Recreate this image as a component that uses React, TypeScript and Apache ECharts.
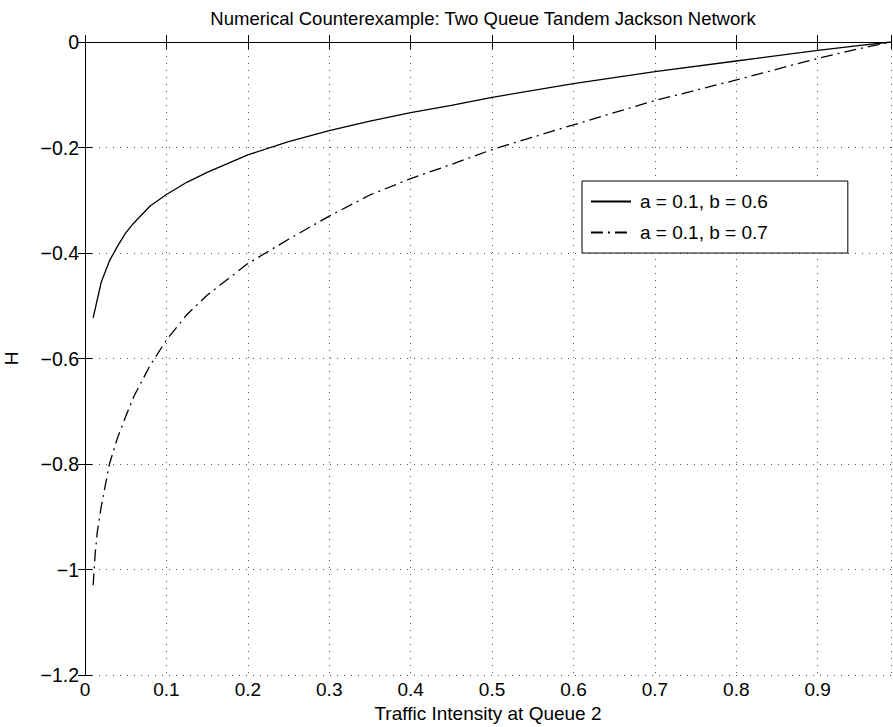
import React, { useEffect, useRef } from "react";
import * as echarts from "echarts";

const titleText = "Numerical Counterexample: Two Queue Tandem Jackson Network";
const xName = "Traffic Intensity at Queue 2";
const yName = "H";
const seriesNames = ["a = 0.1, b = 0.6", "a = 0.1, b = 0.7"];

const solidX = [0.01, 0.02, 0.03, 0.04, 0.05, 0.06, 0.08, 0.1, 0.125, 0.15, 0.2, 0.25, 0.3, 0.35, 0.4, 0.45, 0.5, 0.6, 0.7, 0.8, 0.9, 0.95, 0.99];
const solidY = [-0.523, -0.455, -0.415, -0.387, -0.362, -0.343, -0.311, -0.289, -0.266, -0.247, -0.214, -0.189, -0.168, -0.15, -0.134, -0.12, -0.105, -0.079, -0.056, -0.036, -0.016, -0.007, 0];

const dashX = [0.01, 0.0125, 0.015, 0.02, 0.03, 0.04, 0.05, 0.06, 0.08, 0.1, 0.125, 0.15, 0.2, 0.25, 0.3, 0.35, 0.4, 0.45, 0.5, 0.6, 0.7, 0.8, 0.9, 0.95, 0.99];
const dashY = [-1.03, -0.97, -0.93, -0.88, -0.8, -0.75, -0.71, -0.672, -0.613, -0.565, -0.517, -0.48, -0.42, -0.374, -0.33, -0.29, -0.259, -0.232, -0.204, -0.157, -0.111, -0.072, -0.031, -0.013, 0];

const FONT = "'Liberation Sans', Arial, Helvetica, sans-serif";

const fmtX = (v: number) => {
  const r = Math.round(v * 10);
  if (Math.abs(v * 10 - r) > 1e-6) return "";
  return r === 0 ? "0" : String(r / 10);
};
const fmtY = (v: number) => {
  const r = Math.round(v * 10);
  if (Math.abs(v * 10 - r) > 1e-6) return "";
  const s = r === 0 ? "0" : String(r / 10);
  return s.replace("-", "\u2212");
};

export default function App() {
  const ref = useRef<HTMLDivElement>(null);
  useEffect(() => {
    if (!ref.current) return;
    const chart = echarts.init(ref.current, null, { renderer: "svg" });
    const gridLine = { show: true, lineStyle: { color: "#555", type: [1, 6] as any, width: 1 } };
    const tick = { show: true, inside: true, length: 7, lineStyle: { color: "#000", width: 1 } };
    const axLine = { show: true, lineStyle: { color: "#000", width: 1 } };
    chart.setOption({
      animation: false,
      backgroundColor: "#fff",
      title: {
        text: titleText,
        left: 478,
        textAlign: "center",
        top: 4,
        textStyle: { fontFamily: FONT, fontSize: 18.5, fontWeight: "normal", color: "#000" },
      },
      legend: {
        left: 582,
        top: 181,
        orient: "vertical",
        data: seriesNames,
        itemWidth: 40,
        itemHeight: 14,
        itemGap: 12,
        padding: [11, 80, 11, 8],
        borderColor: "#000",
        borderWidth: 1,
        borderRadius: 0,
        backgroundColor: "#fff",
        itemStyle: { opacity: 0 },
        textStyle: { fontFamily: FONT, fontSize: 19, color: "#000", padding: [0, 0, 0, 4] },
      },
      grid: { left: 85, right: 2, top: 42, bottom: 52, containLabel: false, outerBoundsMode: "none" },
      xAxis: [
        {
          type: "value",
          min: 0,
          max: 0.99,
          interval: 0.1,
          name: xName,
          nameLocation: "middle",
          nameGap: 29,
          nameTextStyle: { fontFamily: FONT, fontSize: 19, color: "#000" },
          axisLine: axLine,
          axisTick: tick,
          axisLabel: { formatter: fmtX, fontFamily: FONT, fontSize: 19, color: "#000", margin: 5 },
          splitLine: gridLine,
        },
        {
          type: "value",
          position: "top",
          min: 0,
          max: 0.99,
          interval: 0.1,
          axisLine: axLine,
          axisTick: tick,
          axisLabel: { show: false },
          splitLine: { show: false },
        },
      ],
      yAxis: [
        {
          type: "value",
          min: -1.2,
          max: 0,
          interval: 0.2,
          name: yName,
          nameLocation: "middle",
          nameGap: 64,
          nameRotate: 90,
          nameTextStyle: { fontFamily: FONT, fontSize: 19, color: "#000" },
          axisLine: axLine,
          axisTick: tick,
          axisLabel: { formatter: fmtY, fontFamily: FONT, fontSize: 19.5, color: "#000", margin: 6 },
          splitLine: gridLine,
        },
        {
          type: "value",
          position: "right",
          min: -1.2,
          max: 0,
          interval: 0.2,
          axisLine: axLine,
          axisTick: tick,
          axisLabel: { show: false },
          splitLine: { show: false },
        },
      ],
      series: [
        {
          name: seriesNames[0],
          type: "line",
          data: solidX.map((x, i) => [x, solidY[i]]),
          symbol: "none",
          showSymbol: false,
          smooth: false,
          lineStyle: { color: "#000", width: 1.3, type: "solid" },
          itemStyle: { color: "#000" },
        },
        {
          name: seriesNames[1],
          type: "line",
          data: dashX.map((x, i) => [x, dashY[i]]),
          symbol: "none",
          showSymbol: false,
          smooth: false,
          lineStyle: { color: "#000", width: 1.3, type: [12, 5, 2, 5] as any },
          itemStyle: { color: "#000" },
        },
      ],
    });
    return () => chart.dispose();
  }, []);
  return (
    <div
      ref={ref}
      style={{ position: "absolute", left: 0, top: 0, width: 893, height: 727 }}
    />
  );
}
